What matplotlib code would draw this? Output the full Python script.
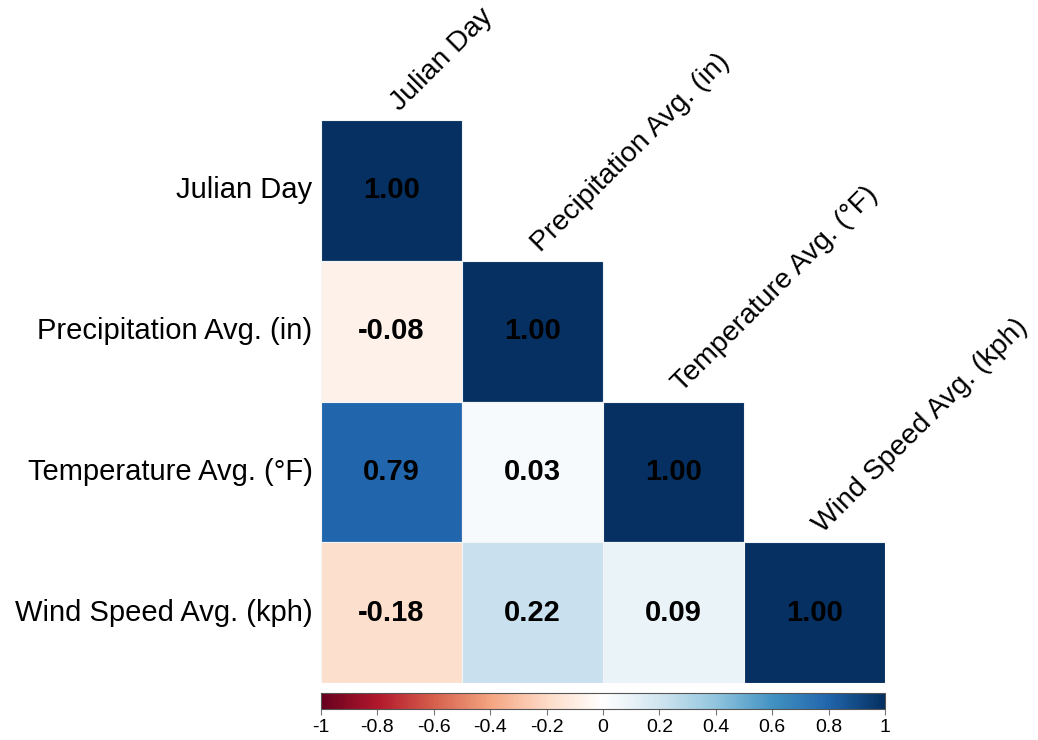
import matplotlib.pyplot as plt
import numpy as np
from matplotlib import colors, colorbar
from matplotlib.patches import Rectangle

plt.rcParams['font.family'] = ['Liberation Sans', 'DejaVu Sans']

# Variables and lower-triangle correlations (row by row)
variables = ['Julian Day', 'Precipitation Avg. (in)',
             'Temperature Avg. (°F)', 'Wind Speed Avg. (kph)']
row_julian = [1.00]
row_precip = [-0.08, 1.00]
row_temp = [0.79, 0.03, 1.00]
row_wind = [-0.18, 0.22, 0.09, 1.00]
cbar_ticks = [-1, -0.8, -0.6, -0.4, -0.2, 0, 0.2, 0.4, 0.6, 0.8, 1]

# diverging red-white-blue palette, white at zero
palette = ['#67001F', '#B2182B', '#D6604D', '#F4A582', '#FDDBC7', '#FFFFFF',
           '#D1E5F0', '#92C5DE', '#4393C3', '#2166AC', '#053061']
cmap = colors.LinearSegmentedColormap.from_list('rdbu_white', palette, N=200)
norm = colors.Normalize(vmin=-1, vmax=1)

rows = [row_julian, row_precip, row_temp, row_wind]
n = len(variables)

W, H = 1038, 740
fig = plt.figure(figsize=(W / 100, H / 100), dpi=100)

ax = fig.add_axes([321 / W, (H - 683) / H, 564 / W, 563 / H])
ax.set_xlim(0, n)
ax.set_ylim(n, 0)
ax.axis('off')

for i, r in enumerate(rows):
    for j, val in enumerate(r):
        ax.add_patch(Rectangle((j, i), 1, 1, facecolor=cmap(norm(val)),
                               edgecolor='#f2f4f8', linewidth=0.8))
        ax.text(j + 0.5, i + 0.5, f'{val:.2f}', ha='center', va='center',
                fontsize=21, fontweight='bold', color='black')
    # row label on the left
    ax.text(-0.06, i + 0.5, variables[i], ha='right', va='center',
            fontsize=21, color='black')
    # column label above the diagonal cell
    ax.text(i + 0.59, i - 0.03, variables[i], ha='left', va='bottom',
            rotation=45, rotation_mode='anchor', fontsize=20.5,
            color='black', clip_on=False)

cax = fig.add_axes([321 / W, (H - 709) / H, 564 / W, 16 / H])
cb = colorbar.ColorbarBase(cax, cmap=cmap, norm=norm,
                           orientation='horizontal', ticks=cbar_ticks)
cb.outline.set_edgecolor('#555555')
cb.outline.set_linewidth(0.8)
cax.set_xticklabels([f'{t:g}' for t in cbar_ticks])
cax.tick_params(axis='x', length=4, color='#777777', labelsize=14,
                pad=3)

fig.savefig('out.png', dpi=100)
